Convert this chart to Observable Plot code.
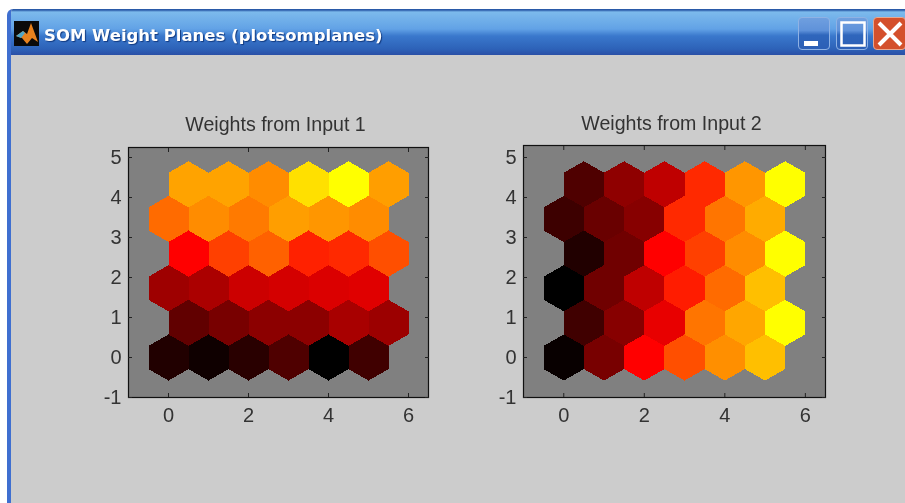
<!DOCTYPE html>
<html>
<head>
<meta charset="utf-8">
<script src="https://cdn.jsdelivr.net/npm/d3@7"></script>
<script src="https://cdn.jsdelivr.net/npm/@observablehq/plot@0.6"></script>
<style>
html,body{margin:0;padding:0;background:#fff;width:905px;height:503px;overflow:hidden}
#win{position:absolute;left:7px;top:9px;width:898px;height:494px;background:#ccc;border-radius:6px 0 0 0;overflow:hidden;border-left:4px solid #3f6fd0;box-sizing:border-box;filter:blur(.35px)}
#bar{position:absolute;left:0;top:0;right:0;height:46px;background:linear-gradient(#2a5aa8 0,#2a5aa8 1px,#7cbaec 3px,#62a2e6 20px,#3a78cc 27px,#2d62b8 40px,#2a4fa6 46px)}
#ttl{position:absolute;left:33px;top:17px;color:#fff;font:bold 16.5px "DejaVu Sans";white-space:nowrap;text-shadow:1px 1px 1px #123a80}
.ic{position:absolute;left:3px;top:12px;width:25px;height:25px;background:#0a0a0a}
.btn{position:absolute;top:8px;width:32px;height:33px;border:1px solid #8fb2e4;border-radius:4px;box-sizing:border-box;background:linear-gradient(#6f9fdf 0,#5f92da 40%,#2f66bc 55%,#2c5fb6 100%)}
.btn svg{position:absolute;left:0;top:0}
.pl{position:absolute}
</style>
</head>
<body>
<div id="win">
  <div id="bar">
    <div class="ic"><svg width="25" height="25"><path d="M2 15L9 10L13 13L17 2L24 21L18 17L13 23L8 17Z" fill="#e8821e"/><path d="M2 15L9 10L11 12L7 17Z" fill="#4fa6c8"/></svg></div>
    <div id="ttl">SOM Weight Planes (plotsomplanes)</div>
    <div class="btn" style="left:787px"><svg width="32" height="33"><rect x="5" y="23" width="14" height="5" fill="#fff"/></svg></div>
    <div class="btn" style="left:825px"><svg width="32" height="33"><rect x="4.5" y="4.5" width="23" height="23" fill="none" stroke="#fff" stroke-width="2.5"/></svg></div>
    <div class="btn" style="left:862px;width:33px;background:#d4502c;border-color:#e8a890"><svg width="33" height="33"><path d="M5 5L27 27M27 5L5 27" stroke="#fff" stroke-width="4"/></svg></div>
  </div>
</div>
<div id="p1" class="pl" style="left:70px;top:100px"></div>
<div id="p2" class="pl" style="left:465px;top:98px"></div>
<script>
// Row heights of the hexagonal SOM grid (bottom to top)
const rowY = [0, 0.866, 1.732, 2.598, 3.464, 4.33];
// Column positions of each row (odd rows are shifted by half a unit)
const evenRowX = [0, 1, 2, 3, 4, 5];
const oddRowX = [0.5, 1.5, 2.5, 3.5, 4.5, 5.5];
// Weight values, bottom row first
const input1Weights = [
  [0.065, 0.03, 0.08, 0.155, 0, 0.125],
  [0.19, 0.235, 0.275, 0.275, 0.33, 0.305],
  [0.31, 0.335, 0.40, 0.415, 0.43, 0.44],
  [0.50, 0.625, 0.69, 0.565, 0.58, 0.655],
  [0.71, 0.775, 0.74, 0.81, 0.795, 0.775],
  [0.82, 0.82, 0.775, 0.94, 1, 0.81]
];
const input2Weights = [
  [0.015, 0.235, 0.50, 0.655, 0.78, 0.875],
  [0.125, 0.265, 0.455, 0.73, 0.825, 1],
  [0, 0.22, 0.375, 0.555, 0.71, 0.875],
  [0.065, 0.22, 0.50, 0.625, 0.775, 1],
  [0.12, 0.205, 0.265, 0.58, 0.73, 0.835],
  [0.155, 0.28, 0.375, 0.58, 0.795, 1]
];
const xTicks = [0, 2, 4, 6];
const yTicks = [-1, 0, 1, 2, 3, 4, 5];
const titles = ["Weights from Input 1", "Weights from Input 2"];
const hexColors = ["#000000", "#ff0000", "#ffff00"];
const hexStops = [0, 0.5, 1];

function hexVertices(weights) {
  const out = [];
  const r = 1 / Math.sqrt(3);
  weights.forEach((row, i) => {
    const xs = i % 2 ? oddRowX : evenRowX;
    row.forEach((w, j) => {
      for (let k = 0; k < 6; k++) {
        const a = Math.PI / 6 + k * Math.PI / 3;
        out.push({id: i + "-" + j, w, x: xs[j] + r * Math.cos(a), y: rowY[i] + r * Math.sin(a)});
      }
    });
  });
  return out;
}

function som(weights, title, yMax, width, height, titleDy) {
  const tick = {stroke: "#222", label: null, tickSize: -4};
  const blank = () => "";
  return Plot.plot({
    width, height,
    marginLeft: 58, marginRight: 20, marginTop: 47, marginBottom: 40,
    style: {background: "transparent", fontFamily: "Liberation Sans", fontSize: "20px", color: "#222", overflow: "visible", filter: "blur(.35px)"},
    x: {domain: [-1, 6.5]},
    y: {domain: [-1, yMax]},
    color: {type: "linear", domain: hexStops, range: hexColors},
    marks: [
      Plot.frame({fill: "#808080", stroke: "none"}),
      Plot.line(hexVertices(weights), {x: "x", y: "y", z: "id", fill: "w", stroke: "none", curve: "linear-closed", shapeRendering: "crispEdges"}),
      Plot.frame({stroke: "#111", strokeWidth: 1.2}),
      Plot.axisX(xTicks, {...tick, anchor: "bottom", tickPadding: 14, tickFormat: String, fill: "#333"}),
      Plot.axisY(yTicks, {...tick, anchor: "left", tickPadding: 11, tickFormat: String, fill: "#333"}),
      Plot.axisX(xTicks, {...tick, anchor: "top", tickFormat: blank}),
      Plot.axisY(yTicks, {...tick, anchor: "right", tickFormat: blank}),
      Plot.text([title], {frameAnchor: "top", dx: -3, dy: titleDy, fontSize: 19.6, fill: "#333"})
    ]
  });
}
document.getElementById("p1").append(som(input1Weights, titles[0], 5.25, 378, 337, -30));
document.getElementById("p2").append(som(input2Weights, titles[1], 5.3, 380, 339, -29));
</script>
</body>
</html>
